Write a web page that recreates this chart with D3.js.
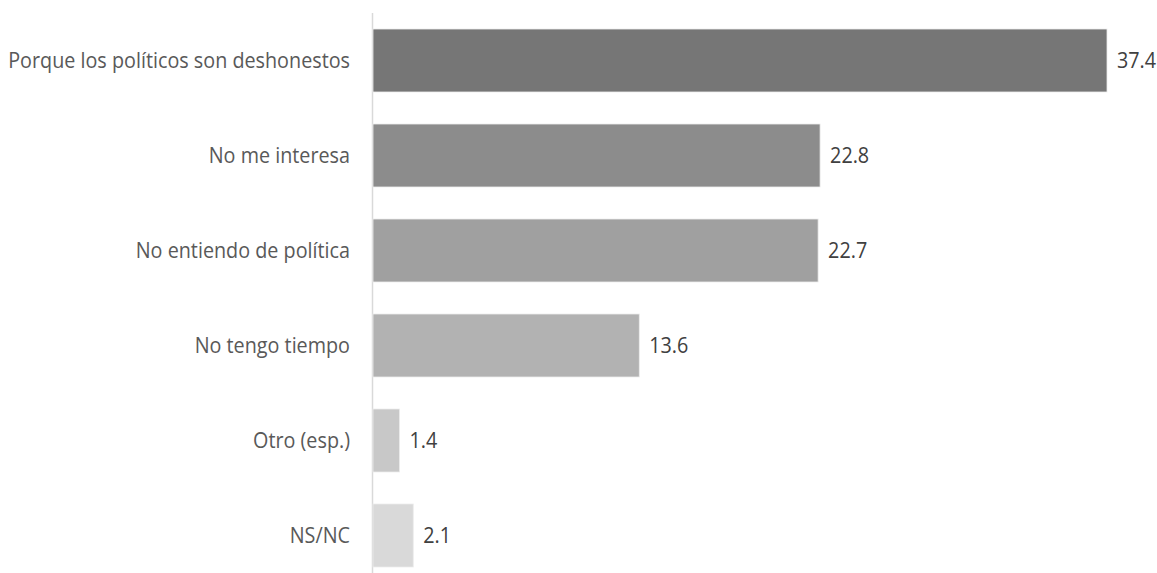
<!DOCTYPE html>
<html>
<head>
<meta charset="utf-8">
<script src="https://cdn.jsdelivr.net/npm/d3@7"></script>
<style>
  html, body { margin: 0; padding: 0; background: #ffffff; }
  svg { display: block; }
  text { font-family: "Open Sans", Lato, sans-serif; }
</style>
</head>
<body>
<div id="chart"></div>
<script>
// Reasons given, top to bottom
const categories = [
  "Porque los políticos son deshonestos",
  "No me interesa",
  "No entiendo de política",
  "No tengo tiempo",
  "Otro (esp.)",
  "NS/NC"
];
const values = [37.4, 22.8, 22.7, 13.6, 1.4, 2.1];
const barColors = ["#767676", "#8c8c8c", "#a0a0a0", "#b2b2b2", "#c8c8c8", "#d9d9d9"];

const width = 1157, height = 573;
const x0 = 372;
const fontSize = 22;
const labelSpan = 342; // width available for the longest category label

const svg = d3.select("#chart").append("svg")
  .attr("width", width)
  .attr("height", height);

const x = d3.scaleLinear().domain([0, 37.4]).range([x0, 1107]);
const y = d3.scaleBand().domain(categories).range([13, 583]).paddingInner(0.337).paddingOuter(0.1685);

// Vertical category axis line
svg.append("line")
  .attr("x1", x0 + 0.5).attr("x2", x0 + 0.5)
  .attr("y1", 13).attr("y2", height)
  .attr("stroke", "#d9d9d9").attr("stroke-width", 1.5);

const rows = categories.map((c, i) => ({ c, v: values[i], col: barColors[i] }));

svg.selectAll("rect.bar").data(rows).join("rect")
  .attr("class", "bar")
  .attr("x", x(0) + 1)
  .attr("y", d => y(d.c))
  .attr("width", d => x(d.v) - x(0) - 1)
  .attr("height", y.bandwidth())
  .attr("fill", d => d.col)
  .attr("stroke", "#ececec").attr("stroke-width", 0.8);

// Condensed text: measure the longest label and squeeze all text horizontally by the same factor
const probe = svg.append("text").attr("font-size", fontSize).text(categories[0]);
const sx = labelSpan / probe.node().getComputedTextLength();
probe.remove();

// Category labels
svg.selectAll("g.cat").data(rows).join("g")
  .attr("class", "cat")
  .attr("transform", d => `translate(350,${y(d.c) + y.bandwidth() / 2}) scale(${sx},1)`)
  .append("text")
  .attr("dy", "0.35em")
  .attr("text-anchor", "end")
  .attr("font-size", fontSize)
  .attr("fill", "#595959")
  .text(d => d.c);

// Value labels
svg.selectAll("g.val").data(rows).join("g")
  .attr("class", "val")
  .attr("transform", d => `translate(${x(d.v) + 10},${y(d.c) + y.bandwidth() / 2}) scale(${sx},1)`)
  .append("text")
  .attr("dy", "0.35em")
  .attr("font-size", fontSize)
  .attr("fill", "#404040")
  .text(d => d3.format(".1f")(d.v));
</script>
</body>
</html>
